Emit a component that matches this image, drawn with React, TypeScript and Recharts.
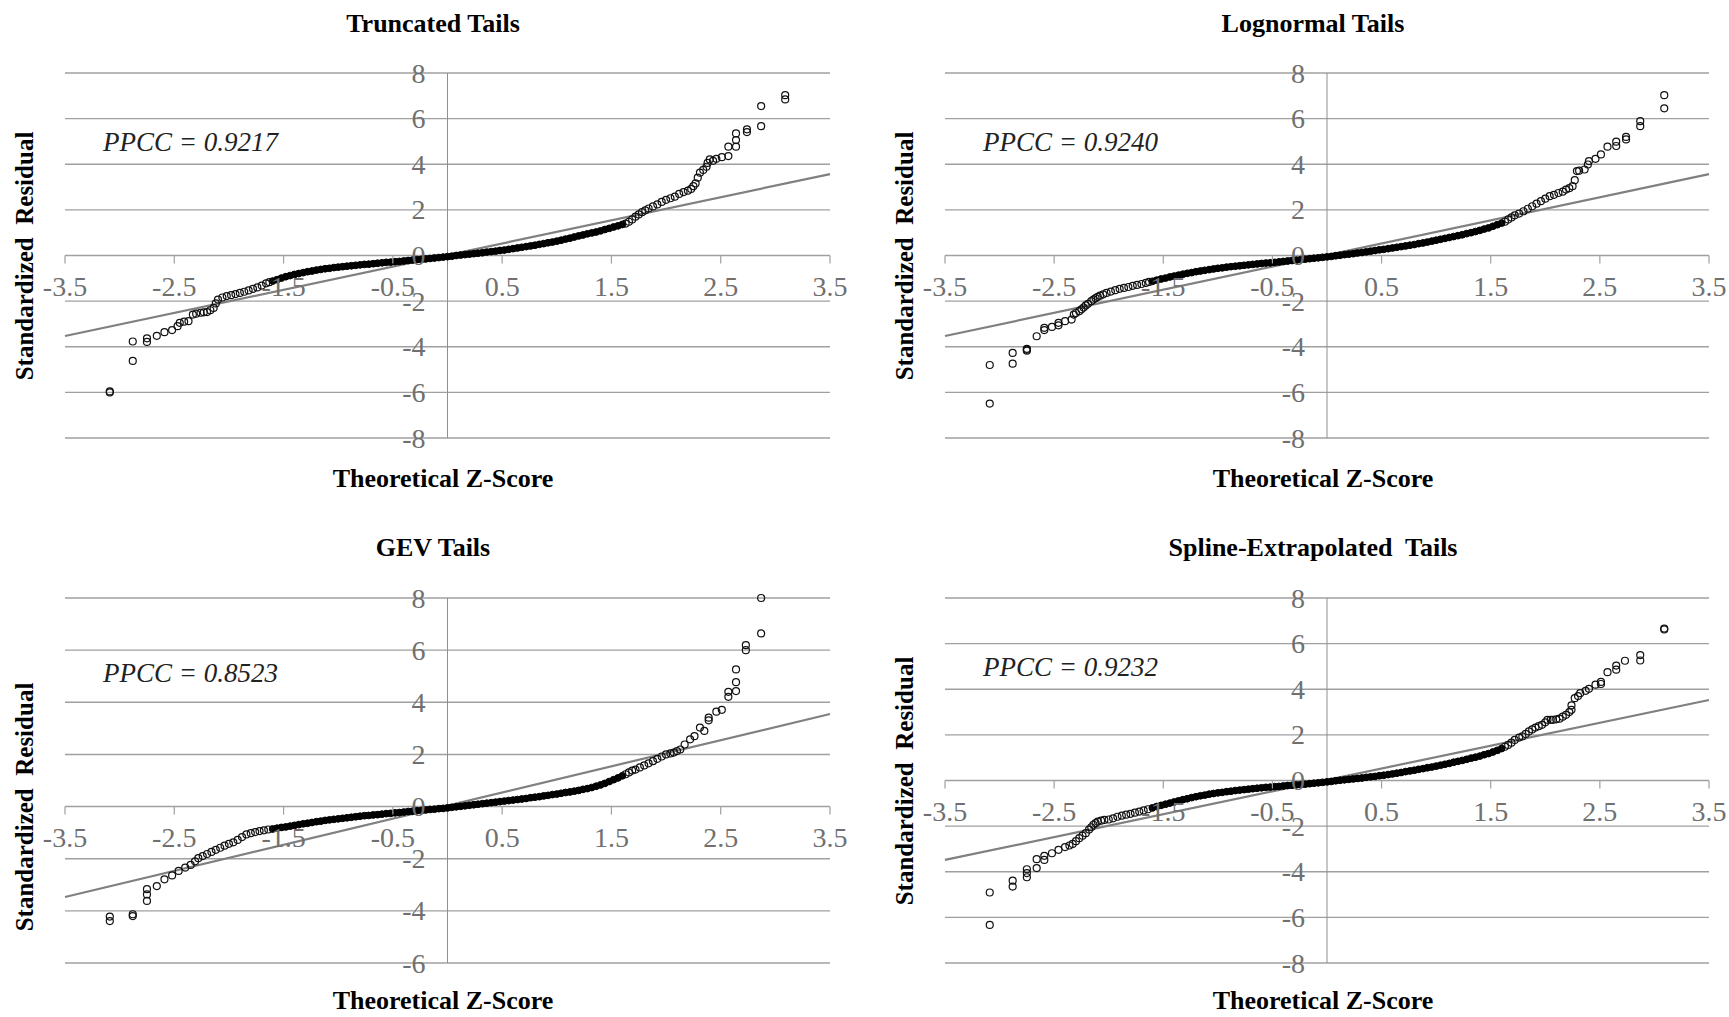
import { ScatterChart, Scatter, XAxis, YAxis, CartesianGrid, ReferenceLine } from 'recharts'

type Pair = [number, number]

const X_TICKS = [-3.5, -2.5, -1.5, -0.5, 0.5, 1.5, 2.5, 3.5]
const Y_TICKS_FULL = [-8, -6, -4, -2, 0, 2, 4, 6, 8]
const Y_TICKS_GEV = [-6, -4, -2, 0, 2, 4, 6, 8]

// theoretical z-scores of the dense middle band (shared by all four panels)
const BAND_Z = [
    -1.60, -1.56, -1.52, -1.48, -1.44, -1.40, -1.36, -1.32, -1.28, -1.24,
    -1.20, -1.16, -1.12, -1.08, -1.04, -1.00, -0.96, -0.92, -0.88, -0.84,
    -0.80, -0.76, -0.72, -0.68, -0.64, -0.60, -0.56, -0.52, -0.48, -0.44,
    -0.40, -0.36, -0.32, -0.28, -0.24, -0.20, -0.16, -0.12, -0.08, -0.04,
    0.00, 0.04, 0.08, 0.12, 0.16, 0.20, 0.24, 0.28, 0.32, 0.36,
    0.40, 0.44, 0.48, 0.52, 0.56, 0.60, 0.64, 0.68, 0.72, 0.76,
    0.80, 0.84, 0.88, 0.92, 0.96, 1.00, 1.04, 1.08, 1.12, 1.16,
    1.20, 1.24, 1.28, 1.32, 1.36, 1.40, 1.44, 1.48, 1.52, 1.56, 1.60,
]

// standardized residuals along the band, one per BAND_Z
const TRUNC_BAND = [
    -1.12, -1.06, -0.99, -0.93, -0.88, -0.83, -0.79, -0.75, -0.71, -0.68,
    -0.64, -0.61, -0.58, -0.56, -0.53, -0.51, -0.49, -0.47, -0.45, -0.43,
    -0.41, -0.39, -0.38, -0.36, -0.34, -0.32, -0.30, -0.29, -0.27, -0.26,
    -0.24, -0.22, -0.20, -0.18, -0.17, -0.15, -0.13, -0.11, -0.09, -0.07,
    -0.05, -0.03, 0.00, 0.02, 0.04, 0.06, 0.08, 0.10, 0.12, 0.15,
    0.17, 0.19, 0.22, 0.24, 0.27, 0.30, 0.33, 0.36, 0.39, 0.42,
    0.45, 0.49, 0.52, 0.56, 0.59, 0.63, 0.67, 0.72, 0.76, 0.81,
    0.86, 0.90, 0.95, 0.99, 1.03, 1.08, 1.14, 1.19, 1.25, 1.30, 1.36,
]
const LOGN_BAND = [
    -1.13, -1.08, -1.03, -0.99, -0.94, -0.90, -0.86, -0.82, -0.78, -0.75,
    -0.71, -0.68, -0.65, -0.62, -0.59, -0.56, -0.54, -0.51, -0.49, -0.47,
    -0.45, -0.43, -0.41, -0.39, -0.37, -0.35, -0.33, -0.32, -0.30, -0.28,
    -0.26, -0.24, -0.22, -0.20, -0.18, -0.16, -0.14, -0.12, -0.10, -0.08,
    -0.06, -0.04, -0.01, 0.01, 0.04, 0.06, 0.08, 0.11, 0.13, 0.16,
    0.19, 0.22, 0.25, 0.27, 0.30, 0.33, 0.36, 0.39, 0.42, 0.45,
    0.48, 0.52, 0.55, 0.59, 0.63, 0.67, 0.71, 0.75, 0.79, 0.83,
    0.87, 0.91, 0.96, 1.00, 1.05, 1.10, 1.16, 1.21, 1.28, 1.35, 1.42,
]
const GEV_BAND = [
    -0.86, -0.83, -0.80, -0.78, -0.75, -0.72, -0.69, -0.66, -0.64, -0.61,
    -0.58, -0.56, -0.53, -0.51, -0.49, -0.47, -0.45, -0.43, -0.41, -0.39,
    -0.37, -0.35, -0.34, -0.32, -0.31, -0.29, -0.27, -0.26, -0.24, -0.23,
    -0.21, -0.19, -0.18, -0.16, -0.15, -0.13, -0.11, -0.10, -0.08, -0.07,
    -0.05, -0.03, -0.01, 0.01, 0.03, 0.05, 0.07, 0.09, 0.11, 0.13,
    0.15, 0.17, 0.19, 0.21, 0.23, 0.25, 0.27, 0.29, 0.31, 0.34,
    0.36, 0.38, 0.41, 0.43, 0.46, 0.48, 0.51, 0.54, 0.56, 0.59,
    0.62, 0.66, 0.69, 0.73, 0.78, 0.83, 0.89, 0.96, 1.03, 1.10, 1.18,
]
const SPLINE_BAND = [
    -1.20, -1.14, -1.09, -1.04, -0.99, -0.94, -0.89, -0.84, -0.80, -0.75,
    -0.71, -0.67, -0.64, -0.60, -0.57, -0.54, -0.52, -0.49, -0.47, -0.44,
    -0.42, -0.40, -0.38, -0.36, -0.34, -0.32, -0.30, -0.29, -0.27, -0.26,
    -0.24, -0.22, -0.21, -0.19, -0.18, -0.16, -0.14, -0.12, -0.10, -0.08,
    -0.06, -0.04, -0.01, 0.01, 0.03, 0.05, 0.07, 0.09, 0.11, 0.14,
    0.16, 0.18, 0.21, 0.23, 0.26, 0.29, 0.32, 0.35, 0.39, 0.42,
    0.45, 0.49, 0.52, 0.56, 0.59, 0.63, 0.67, 0.71, 0.75, 0.80,
    0.84, 0.88, 0.93, 0.98, 1.02, 1.07, 1.13, 1.18, 1.25, 1.32, 1.40,
]

// individually visible points in the tails: [z, residual]
const TRUNC_TAILS: Pair[] = [
    [-3.09, -6.0], [-3.09, -5.96], [-2.88, -3.77], [-2.88, -4.62], [-2.75, -3.63], [-2.75, -3.79],
    [-2.66, -3.52], [-2.59, -3.36], [-2.52, -3.27], [-2.47, -3.10], [-2.45, -2.95], [-2.41, -2.90],
    [-2.37, -2.88], [-2.33, -2.59], [-2.30, -2.55], [-2.26, -2.51], [-2.23, -2.49], [-2.20, -2.48],
    [-2.17, -2.40], [-2.14, -2.30], [-2.12, -2.10], [-2.10, -1.93], [-2.06, -1.84], [-2.02, -1.78],
    [-1.98, -1.74], [-1.94, -1.69], [-1.90, -1.64], [-1.86, -1.59], [-1.82, -1.53], [-1.78, -1.46],
    [-1.74, -1.40], [-1.70, -1.32], [-1.66, -1.22], [-1.63, -1.17],
    [1.63, 1.40], [1.66, 1.48], [1.69, 1.58], [1.72, 1.70], [1.75, 1.80], [1.78, 1.90], [1.81, 1.98],
    [1.84, 2.06], [1.88, 2.15], [1.92, 2.24], [1.96, 2.35], [2.00, 2.44], [2.04, 2.51], [2.08, 2.58],
    [2.12, 2.70], [2.16, 2.78], [2.20, 2.84], [2.23, 2.92], [2.25, 3.04], [2.27, 3.16], [2.29, 3.41],
    [2.31, 3.63], [2.34, 3.75], [2.37, 3.89], [2.38, 4.06], [2.40, 4.21], [2.43, 4.15], [2.46, 4.24],
    [2.51, 4.31], [2.57, 4.36], [2.57, 4.77], [2.64, 4.77], [2.64, 5.06], [2.64, 5.35], [2.74, 5.41],
    [2.74, 5.53], [2.87, 5.67], [2.87, 6.55], [3.09, 6.84], [3.09, 7.03],
]
const LOGN_TAILS: Pair[] = [
    [-3.09, -4.80], [-3.09, -6.49], [-2.88, -4.27], [-2.88, -4.74], [-2.75, -4.09], [-2.75, -4.13],
    [-2.75, -4.17], [-2.66, -3.54], [-2.59, -3.27], [-2.59, -3.17], [-2.52, -3.13], [-2.46, -3.06],
    [-2.46, -2.95], [-2.40, -2.88], [-2.34, -2.81], [-2.32, -2.59], [-2.30, -2.52], [-2.27, -2.44],
    [-2.25, -2.36], [-2.23, -2.28], [-2.21, -2.19], [-2.19, -2.12], [-2.16, -2.00], [-2.14, -1.93],
    [-2.12, -1.87], [-2.10, -1.81], [-2.08, -1.76], [-2.05, -1.70], [-2.02, -1.64], [-1.98, -1.58],
    [-1.94, -1.52], [-1.90, -1.46], [-1.86, -1.42], [-1.82, -1.38], [-1.78, -1.33], [-1.74, -1.29],
    [-1.70, -1.25], [-1.66, -1.20], [-1.63, -1.16],
    [1.63, 1.48], [1.66, 1.58], [1.69, 1.67], [1.72, 1.76], [1.76, 1.84], [1.80, 1.94], [1.84, 2.05],
    [1.88, 2.16], [1.92, 2.27], [1.96, 2.38], [2.00, 2.49], [2.04, 2.60], [2.08, 2.66], [2.12, 2.74],
    [2.16, 2.80], [2.19, 2.89], [2.22, 2.95], [2.25, 3.04], [2.27, 3.30], [2.29, 3.70], [2.31, 3.72],
    [2.36, 3.77], [2.39, 3.99], [2.40, 4.14], [2.46, 4.24], [2.51, 4.43], [2.57, 4.77], [2.65, 4.80],
    [2.65, 4.99], [2.74, 5.09], [2.74, 5.20], [2.87, 5.67], [2.87, 5.89], [3.09, 6.45], [3.09, 7.03],
]
const GEV_TAILS: Pair[] = [
    [-3.09, -4.22], [-3.09, -4.39], [-2.88, -4.13], [-2.88, -4.20], [-2.75, -3.17], [-2.75, -3.37],
    [-2.75, -3.62], [-2.66, -3.05], [-2.59, -2.79], [-2.52, -2.64], [-2.46, -2.47], [-2.40, -2.34],
    [-2.35, -2.24], [-2.31, -2.10], [-2.28, -1.98], [-2.24, -1.90], [-2.20, -1.82], [-2.16, -1.74],
    [-2.12, -1.66], [-2.08, -1.58], [-2.04, -1.50], [-2.00, -1.43], [-1.96, -1.37], [-1.92, -1.28],
    [-1.88, -1.17], [-1.84, -1.07], [-1.80, -1.02], [-1.76, -0.98], [-1.72, -0.94], [-1.68, -0.91],
    [-1.64, -0.88],
    [1.63, 1.24], [1.66, 1.31], [1.69, 1.38], [1.72, 1.42], [1.76, 1.50], [1.80, 1.58], [1.84, 1.66],
    [1.88, 1.74], [1.92, 1.83], [1.96, 1.92], [2.00, 2.00], [2.04, 2.04], [2.07, 2.07], [2.10, 2.13],
    [2.13, 2.19], [2.17, 2.38], [2.22, 2.58], [2.26, 2.70], [2.31, 3.03], [2.35, 2.90], [2.39, 3.31],
    [2.39, 3.41], [2.46, 3.64], [2.51, 3.71], [2.57, 4.21], [2.57, 4.40], [2.64, 4.43], [2.64, 4.77],
    [2.64, 5.26], [2.73, 6.00], [2.73, 6.19], [2.87, 6.64], [2.87, 8.0],
]
const SPLINE_TAILS: Pair[] = [
    [-3.09, -4.91], [-3.09, -6.33], [-2.88, -4.39], [-2.88, -4.65], [-2.75, -3.89], [-2.75, -4.06],
    [-2.75, -4.24], [-2.66, -3.45], [-2.66, -3.84], [-2.59, -3.30], [-2.59, -3.48], [-2.52, -3.19],
    [-2.46, -3.04], [-2.40, -2.92], [-2.36, -2.85], [-2.33, -2.78], [-2.30, -2.66], [-2.27, -2.53],
    [-2.24, -2.42], [-2.21, -2.31], [-2.18, -2.15], [-2.16, -2.05], [-2.14, -1.94], [-2.12, -1.87],
    [-2.10, -1.80], [-2.07, -1.76], [-2.04, -1.73], [-2.00, -1.71], [-1.96, -1.66], [-1.92, -1.59],
    [-1.88, -1.54], [-1.84, -1.50], [-1.80, -1.46], [-1.76, -1.41], [-1.72, -1.36], [-1.68, -1.31],
    [-1.64, -1.26],
    [1.63, 1.48], [1.66, 1.56], [1.69, 1.66], [1.72, 1.78], [1.76, 1.88], [1.79, 1.93], [1.82, 2.04],
    [1.85, 2.15], [1.88, 2.24], [1.91, 2.32], [1.94, 2.38], [1.97, 2.44], [2.00, 2.55], [2.02, 2.66],
    [2.05, 2.66], [2.07, 2.66], [2.10, 2.68], [2.13, 2.71], [2.16, 2.80], [2.19, 2.88], [2.22, 3.00],
    [2.24, 3.10], [2.24, 3.29], [2.27, 3.61], [2.30, 3.70], [2.32, 3.83], [2.37, 3.93], [2.40, 4.02],
    [2.46, 4.20], [2.51, 4.23], [2.51, 4.32], [2.57, 4.75], [2.65, 4.86], [2.65, 5.04], [2.73, 5.25],
    [2.87, 5.26], [2.87, 5.50], [3.09, 6.62], [3.09, 6.66],
]

// fitted reference lines, end points
const TRUNC_FIT: Pair[] = [[-3.5, -3.53], [3.5, 3.57]]
const LOGN_FIT: Pair[] = [[-3.5, -3.53], [3.5, 3.57]]
const GEV_FIT: Pair[] = [[-3.5, -3.47], [3.5, 3.55]]
const SPLINE_FIT: Pair[] = [[-3.5, -3.48], [3.5, 3.53]]

const SERIF = "'Liberation Serif', 'Times New Roman', serif"
const GRID = '#a0a0a0'
const TICK_TEXT = '#707070'

function XTick(props: any) {
    const { x, payload, zeroY } = props
    return (
        <g>
            <line x1={x} x2={x} y1={zeroY} y2={zeroY + 8} stroke={GRID} strokeWidth={1.2} />
            <text x={x} y={zeroY + 31} textAnchor="middle" dominantBaseline="central"
                fontFamily={SERIF} fontSize={28} fill={TICK_TEXT}>
                {String(payload.value)}
            </text>
        </g>
    )
}

function YTick(props: any) {
    const { y, payload, zeroX } = props
    return (
        <text x={zeroX - 22} y={y} textAnchor="end" dominantBaseline="central"
            fontFamily={SERIF} fontSize={28} fill={TICK_TEXT}>
            {String(payload.value)}
        </text>
    )
}

const solidDot = (p: any) => (
    <circle cx={p.cx} cy={p.cy} r={3.4} fill="#000" stroke="#000" strokeWidth={1} />
)
const ringDot = (p: any) => (
    <circle cx={p.cx} cy={p.cy} r={3.5} fill="none" stroke="#111" strokeWidth={1.2} />
)

interface PanelProps {
    left: number
    top: number
    width: number
    height: number
    margin: { top: number; right: number; bottom: number; left: number }
    title: string
    ppcc: string
    ppccY: number
    band: number[]
    tails: Pair[]
    fit: Pair[]
    yTicks: number[]
}

function Panel({ left, top, width, height, margin, title, ppcc, ppccY, band, tails, fit, yTicks }: PanelProps) {
    const yMin = yTicks[0]
    const yMax = yTicks[yTicks.length - 1]
    const plotW = width - margin.left - margin.right
    const plotH = height - margin.top - margin.bottom
    const zeroX = margin.left + plotW / 2
    const zeroY = margin.top + plotH * yMax / (yMax - yMin)

    const bandData = BAND_Z.map((z, i) => ({ z, r: band[i] }))
    const tailData = tails.map(([z, r]) => ({ z, r }))

    // axes take 1px each; margins are reduced by that amount
    const chartMargin = { ...margin, left: margin.left - 1, bottom: margin.bottom - 1 }

    return (
        <div style={{ position: 'absolute', left, top, width, height }}>
            <ScatterChart width={width} height={height} margin={chartMargin}>
                <CartesianGrid vertical={false} stroke={GRID} strokeWidth={1.4} />
                <XAxis type="number" dataKey="z" domain={[-3.5, 3.5]} ticks={X_TICKS} interval={0}
                    height={1} axisLine={false} tickLine={false}
                    tick={(p: any) => <XTick {...p} zeroY={zeroY} />} />
                <YAxis type="number" dataKey="r" domain={[yMin, yMax]} ticks={yTicks} interval={0}
                    width={1} axisLine={false} tickLine={false}
                    tick={(p: any) => <YTick {...p} zeroX={zeroX} />} />
                <ReferenceLine x={0} stroke="#8f8f8f" strokeWidth={1} />
                <ReferenceLine
                    segment={[{ x: fit[0][0], y: fit[0][1] }, { x: fit[1][0], y: fit[1][1] }]}
                    stroke="#808080" strokeWidth={2.2} />
                <Scatter data={bandData} isAnimationActive={false} shape={solidDot} />
                <Scatter data={tailData} isAnimationActive={false} shape={ringDot} />
            </ScatterChart>

            <div style={{
                position: 'absolute', left: 433, top: top === 0 ? 24 : 28, transform: 'translate(-50%, -50%)',
                fontFamily: SERIF, fontWeight: 'bold', fontSize: 26, whiteSpace: 'pre', lineHeight: 1,
            }}>{title}</div>

            <div style={{
                position: 'absolute', left: 24, top: zeroY, transform: 'translate(-50%, -50%) rotate(-90deg)',
                fontFamily: SERIF, fontWeight: 'bold', fontSize: 25, whiteSpace: 'pre', lineHeight: 1,
            }}>{'Standardized  Residual'}</div>

            <div style={{
                position: 'absolute', left: 443, top: height - (top === 0 ? 21 : 16), transform: 'translate(-50%, -50%)',
                fontFamily: SERIF, fontWeight: 'bold', fontSize: 26, whiteSpace: 'pre', lineHeight: 1,
            }}>Theoretical Z-Score</div>

            <div style={{
                position: 'absolute', left: 103, top: ppccY, transform: 'translateY(-50%)',
                fontFamily: SERIF, fontStyle: 'italic', fontSize: 27, color: '#222', whiteSpace: 'pre', lineHeight: 1,
            }}>{ppcc}</div>
        </div>
    )
}

export default function App() {
    const topMargin = { top: 73, right: 40, bottom: 62, left: 65 }
    const topMarginR = { top: 73, right: 20, bottom: 62, left: 65 }
    const botMargin = { top: 78, right: 40, bottom: 54, left: 65 }
    const botMarginR = { top: 78, right: 20, bottom: 54, left: 65 }

    return (
        <div style={{ position: 'absolute', left: 0, top: 0, width: 1729, height: 1017, background: '#fff', overflow: 'hidden' }}>
            <Panel left={0} top={0} width={870} height={500} margin={topMargin}
                title="Truncated Tails" ppcc="PPCC = 0.9217" ppccY={142}
                band={TRUNC_BAND} tails={TRUNC_TAILS} fit={TRUNC_FIT} yTicks={Y_TICKS_FULL} />
            <Panel left={880} top={0} width={849} height={500} margin={topMarginR}
                title="Lognormal Tails" ppcc="PPCC = 0.9240" ppccY={142}
                band={LOGN_BAND} tails={LOGN_TAILS} fit={LOGN_FIT} yTicks={Y_TICKS_FULL} />
            <Panel left={0} top={520} width={870} height={497} margin={botMargin}
                title="GEV Tails" ppcc="PPCC = 0.8523" ppccY={153}
                band={GEV_BAND} tails={GEV_TAILS} fit={GEV_FIT} yTicks={Y_TICKS_GEV} />
            <Panel left={880} top={520} width={849} height={497} margin={botMarginR}
                title="Spline-Extrapolated  Tails" ppcc="PPCC = 0.9232" ppccY={147}
                band={SPLINE_BAND} tails={SPLINE_TAILS} fit={SPLINE_FIT} yTicks={Y_TICKS_FULL} />
        </div>
    )
}
